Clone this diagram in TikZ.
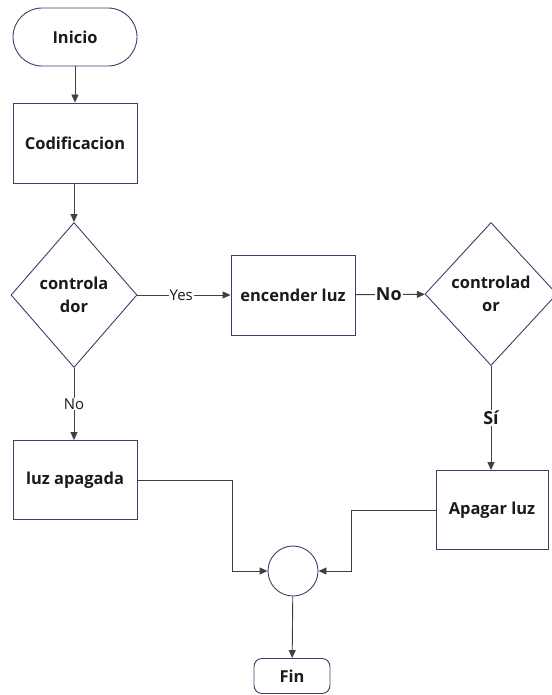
\documentclass[tikz,border=0pt]{standalone}
\usepackage{fontspec}
\setmainfont{Open Sans}
\usetikzlibrary{positioning, shapes.geometric, arrows.meta}
\definecolor{borde}{RGB}{58,64,108}
\definecolor{linea}{RGB}{64,64,64}
\definecolor{texto}{RGB}{26,26,30}
\tikzset{
  caja/.style={draw=borde, line width=0.9bp, fill=white, text=texto,
    font=\fontsize{16.5}{19}\selectfont\bfseries, inner sep=0pt},
  rombo/.style={caja, diamond, align=center},
  flecha/.style={draw=linea, line width=0.9bp, -{Triangle[length=8bp, width=7bp]}},
  etiq/.style={fill=white, inner sep=1bp, text=texto, font=\fontsize{15}{17}\selectfont},
  etiqb/.style={etiq, font=\fontsize{18}{20}\selectfont\bfseries},
}
\begin{document}
\begin{tikzpicture}[x=1bp, y=-1bp]
  \useasboundingbox (0, 0) rectangle (552, 695);

  \node [caja, rounded corners=29bp, minimum width=124bp, minimum height=58bp] (inicio) at (75, 37) {Inicio};
  \node [caja, minimum width=124bp, minimum height=80bp] (codif) at (75, 143) {Codificacion};
  \node [rombo, minimum width=126bp, minimum height=145bp] (ctrl1) at (74, 295) {controla\\[4bp]dor};
  \node [caja, minimum width=124bp, minimum height=80bp] (encender) at (293, 295) {encender luz};
  \node [rombo, minimum width=132bp, minimum height=143bp] (ctrl2) at (491, 294) {controlad\\[4bp]or};
  \node [caja, minimum width=124bp, minimum height=79bp] (apagada) at (75, 480) {luz apagada};
  \node [caja, minimum width=112bp, minimum height=79bp] (apagar) at (492, 510) {Apagar luz};
  \node [caja, circle, minimum size=50bp] (union) at (293, 571) {};
  \node [caja, rounded corners=8bp, minimum width=76bp, minimum height=35bp] (fin) at (292, 676) {Fin};

  \draw [flecha] (inicio) -- (codif);
  \draw [flecha] (codif.south -| ctrl1.north) -- (ctrl1);
  \draw [flecha] (ctrl1) -- (encender) node [etiq, pos=0.47] {Yes};
  \draw [flecha] (encender) -- (ctrl2) node [etiqb, pos=0.48] {No};
  \draw [flecha] (ctrl1.south) -- (ctrl1.south |- apagada.north) node [etiq, pos=0.5] {No};
  \draw [flecha] (ctrl2.south) -- (ctrl2.south |- apagar.north) node [etiqb, pos=0.5] {Sí};
  \draw [flecha] (apagada.east) -| (232, 571) -- (union.west);
  \draw [flecha] (apagar.west) -| (351, 571) -- (union.east);
  \draw [flecha] (union) -- (fin);
\end{tikzpicture}
\end{document}
